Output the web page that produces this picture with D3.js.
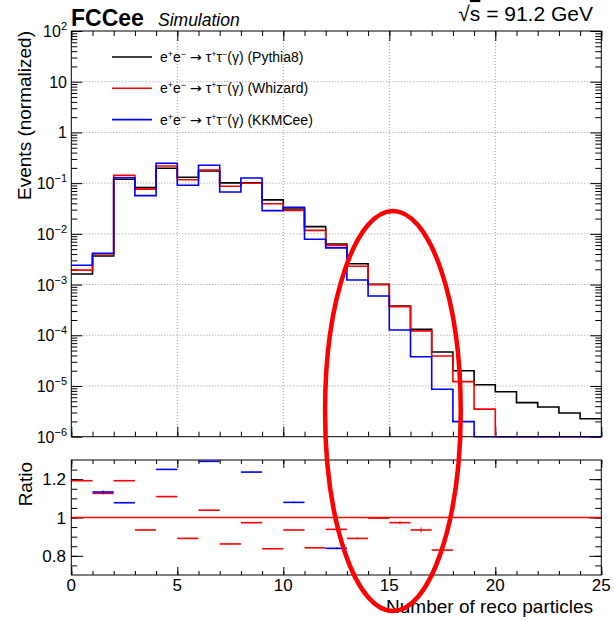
<!DOCTYPE html>
<html>
<head>
<meta charset="utf-8">
<title>FCCee - number of reco particles</title>
<style>
  body { margin: 0; background: #fff; }
  svg { display: block; font-family: "Liberation Sans", Arial, Helvetica, sans-serif; }
  .grid line { stroke: #9a9a9a; stroke-width: 1; stroke-dasharray: 1,2; }
  .frame { fill: none; stroke: #000; stroke-width: 1; }
  .tk line { stroke: #000; stroke-width: 1; }
  .hist { fill: none; stroke-width: 1.6; }
</style>
</head>
<body>
<svg id="chart" width="615" height="622"></svg>
<script src="https://d3js.org/d3.v7.min.js"></script>
<script>
// bin edges: 25 bins of width 1 from 0 to 25
const edges = d3.range(0, 26);

// normalized event counts per bin
const pythia8 = [1.62e-3, 3.66e-3, 0.119, 0.0815, 0.197, 0.131, 0.174, 0.101, 0.102, 0.0467,
  0.031, 0.0139, 6.32e-3, 2.58e-3, 1.01e-3, 3.78e-4, 1.31e-4, 4.69e-5, 2.0e-5, 1.06e-5,
  7.7e-6, 4.69e-6, 3.85e-6, 2.93e-6, 2.26e-6];
const whizard = [1.93e-3, 4.0e-3, 0.142, 0.0762, 0.218, 0.117, 0.181, 0.087, 0.0992, 0.0391,
  0.029, 0.0117, 5.93e-3, 2.30e-3, 1.0e-3, 3.68e-4, 1.22e-4, 3.9e-5, 1.22e-5, 3.5e-6,
  0, 0, 0, 0, 0];
const kkmcee = [2.4e-3, 4.15e-3, 0.128, 0.0567, 0.246, 0.0908, 0.225, 0.067, 0.126, 0.0287,
  0.0335, 7.82e-3, 5.3e-3, 1.23e-3, 5.96e-4, 1.27e-4, 3.78e-5, 8.6e-6, 1.98e-6, 0,
  0, 0, 0, 0, 0];

// ratio to Pythia8 (null = outside the 0.7-1.3 window or empty)
const ratioWhizard = [1.192, 1.126, 1.192, 0.935, 1.109, 0.891, 1.038, 0.862, 0.973, 0.837,
  0.935, 0.842, 0.938, 0.891, 0.997, 0.973, 0.935, 0.830, null, null,
  null, null, null, null, null];
const errWhizard = [0.004, 0.006, 0.003, 0.003, 0.003, 0.003, 0.003, 0.003, 0.003, 0.003,
  0.003, 0.004, 0.004, 0.005, 0.005, 0.008, 0.013, 0.008, 0, 0,
  0, 0, 0, 0, 0];
const ratioKKMCee = [null, 1.133, 1.077, null, 1.251, null, 1.293, null, 1.237, null,
  1.079, null, 0.839, null, null, null, null, null, null, null,
  null, null, null, null, null];
const errKKMCee = [0, 0.008, 0.003, 0, 0.003, 0, 0.003, 0, 0.003, 0,
  0.004, 0, 0.005, 0, 0, 0, 0, 0, 0, 0,
  0, 0, 0, 0, 0];

const legendLabels = ['Pythia8', 'Whizard', 'KKMCee'];
const colors = ['#000000', '#ff0000', '#0000ff'];
const xMajor = [0, 5, 10, 15, 20, 25];
const decades = [-6, -5, -4, -3, -2, -1, 0, 1, 2];
const ratioMajor = [0.8, 1, 1.2];

// layout
const L = 71.3, R = 601.3;
const topY0 = 31, topY1 = 436.7;
const ratY0 = 460, ratY1 = 575;

const svg = d3.select('#chart');

const x = d3.scaleLinear().domain([0, 25]).range([L, R]);
const y = d3.scaleLog().domain([1e-6, 100]).range([topY1, topY0]).clamp(true);
const yr = d3.scaleLinear().domain([0.7, 1.3]).range([ratY1, ratY0]);

const logMinor = [];
decades.slice(0, -1).forEach(d => { for (let m = 2; m <= 9; m++) logMinor.push(m * Math.pow(10, d)); });
const logMajor = decades.map(d => Math.pow(10, d));
const xMinor = edges;
const ratioMinor = d3.range(0.75, 1.3, 0.05).map(v => +v.toFixed(2));

// grid (top panel only)
const grid = svg.append('g').attr('class', 'grid');
grid.selectAll('.gx').data(xMajor.slice(1, -1)).enter().append('line')
  .attr('x1', d => x(d)).attr('x2', d => x(d)).attr('y1', topY0).attr('y2', topY1);
grid.selectAll('.gy').data(logMajor.slice(1, -1)).enter().append('line')
  .attr('x1', L).attr('x2', R).attr('y1', d => y(d)).attr('y2', d => y(d));

// tick helper: ticks drawn inside the frame, no labels
function ticks(axisFn, scale, values, size, tx, ty) {
  svg.append('g').attr('class', 'tk')
    .attr('transform', `translate(${tx},${ty})`)
    .call(axisFn(scale).tickValues(values).tickSize(-size).tickFormat(''))
    .call(g => g.select('.domain').remove());
}

// top panel ticks
ticks(d3.axisBottom, x, xMinor, 5, 0, topY1);
ticks(d3.axisBottom, x, xMajor, 10, 0, topY1);
ticks(d3.axisTop, x, xMinor, 5, 0, topY0);
ticks(d3.axisTop, x, xMajor, 10, 0, topY0);
ticks(d3.axisLeft, y, logMinor, 6, L, 0);
ticks(d3.axisLeft, y, logMajor, 11, L, 0);
ticks(d3.axisRight, y, logMinor, 6, R, 0);
ticks(d3.axisRight, y, logMajor, 11, R, 0);

// ratio panel ticks
ticks(d3.axisBottom, x, xMinor, 4, 0, ratY1);
ticks(d3.axisBottom, x, xMajor, 8, 0, ratY1);
ticks(d3.axisTop, x, xMinor, 4, 0, ratY0);
ticks(d3.axisTop, x, xMajor, 8, 0, ratY0);
ticks(d3.axisLeft, yr, ratioMinor, 6, L, 0);
ticks(d3.axisLeft, yr, ratioMajor, 12, L, 0);
ticks(d3.axisRight, yr, ratioMinor, 6, R, 0);
ticks(d3.axisRight, yr, ratioMajor, 12, R, 0);

// histograms
const line = d3.line()
  .x(d => x(d[0]))
  .y(d => y(Math.max(d[1], 1e-6)))
  .curve(d3.curveStepAfter);
[pythia8, whizard, kkmcee].forEach((vals, k) => {
  const pts = edges.map(e => [e, vals[Math.min(e, vals.length - 1)]]);
  svg.append('path').attr('class', 'hist')
    .attr('stroke', colors[k])
    .attr('d', line(pts));
});

// ratio reference line
svg.append('line')
  .attr('x1', x(0)).attr('x2', x(25))
  .attr('y1', yr(1)).attr('y2', yr(1))
  .attr('stroke', '#ff0000').attr('stroke-width', 1.3);

// ratio markers
[[ratioWhizard, errWhizard, colors[1]], [ratioKKMCee, errKKMCee, colors[2]]].forEach(([vals, errs, c]) => {
  const g = svg.append('g').attr('stroke', c).attr('stroke-width', 1.6);
  vals.forEach((v, i) => {
    if (v === null) return;
    g.append('line').attr('x1', x(i)).attr('x2', x(i + 1)).attr('y1', yr(v)).attr('y2', yr(v));
    g.append('line').attr('stroke-width', 1)
      .attr('x1', x(i + 0.5)).attr('x2', x(i + 0.5))
      .attr('y1', yr(v - errs[i])).attr('y2', yr(v + errs[i]));
  });
});

// frames
svg.append('rect').attr('class', 'frame')
  .attr('x', L).attr('y', topY0).attr('width', R - L).attr('height', topY1 - topY0);
svg.append('rect').attr('class', 'frame')
  .attr('x', L).attr('y', ratY0).attr('width', R - L).attr('height', ratY1 - ratY0);

// y tick labels, top panel
decades.forEach(d => {
  const t = svg.append('text')
    .attr('x', 67).attr('y', y(Math.pow(10, d)) + 6)
    .attr('text-anchor', 'end').attr('font-size', 16);
  if (d === 0) t.text('1');
  else if (d === 1) t.text('10');
  else {
    t.append('tspan').text('10');
    t.append('tspan').attr('dy', -7).attr('font-size', 11)
      .text(d < 0 ? '\u2212' + (-d) : String(d));
  }
});

// y tick labels, ratio panel
svg.selectAll('.rl').data(ratioMajor).enter().append('text')
  .attr('x', 66).attr('y', d => yr(d) + 6)
  .attr('text-anchor', 'end').attr('font-size', 17)
  .text(d => d === 1 ? '1' : d);

// x tick labels
svg.selectAll('.xl').data(xMajor).enter().append('text')
  .attr('x', d => x(d)).attr('y', 591)
  .attr('text-anchor', 'middle').attr('font-size', 17)
  .text(d => d);

// axis titles
svg.append('text')
  .attr('transform', 'translate(31,31) rotate(-90)')
  .attr('text-anchor', 'end').attr('font-size', 19)
  .text('Events (normalized)');
svg.append('text')
  .attr('transform', 'translate(32,462) rotate(-90)')
  .attr('text-anchor', 'end').attr('font-size', 19)
  .text('Ratio');
svg.append('text')
  .attr('x', 593).attr('y', 613)
  .attr('text-anchor', 'end').attr('font-size', 19)
  .text('Number of reco particles');

// header
svg.append('text').attr('x', 71).attr('y', 26)
  .attr('font-size', 23).attr('font-weight', 'bold').text('FCCee');
svg.append('text').attr('x', 158).attr('y', 26)
  .attr('font-size', 17.5).attr('font-style', 'italic').text('Simulation');
const sq = svg.append('text').attr('x', 593).attr('y', 21)
  .attr('text-anchor', 'end').attr('font-size', 21);
sq.append('tspan').text('\u221A');
sq.append('tspan').attr('text-decoration', 'overline').text('s');
sq.append('tspan').text(' = 91.2 GeV');

// legend
const leg = svg.append('g');
legendLabels.forEach((name, k) => {
  const ly = 57 + k * 31.3;
  leg.append('line').attr('x1', 112).attr('x2', 152).attr('y1', ly).attr('y2', ly)
    .attr('stroke', colors[k]).attr('stroke-width', 1.6);
  const t = leg.append('text').attr('x', 160).attr('y', ly + 5).attr('font-size', 14);
  t.append('tspan').text('e');
  t.append('tspan').attr('dy', -5).attr('font-size', 9).text('+');
  t.append('tspan').attr('dy', 5).text('e');
  t.append('tspan').attr('dy', -5).attr('font-size', 9).text('\u2212');
  t.append('tspan').attr('dy', 5).text(' ');
  t.append('tspan').attr('font-family', 'DejaVu Sans').text('\u2192');
  t.append('tspan').text(' \u03C4');
  t.append('tspan').attr('dy', -5).attr('font-size', 9).text('+');
  t.append('tspan').attr('dy', 5).text('\u03C4');
  t.append('tspan').attr('dy', -5).attr('font-size', 9).text('\u2212');
  t.append('tspan').attr('dy', 5).text('(\u03B3) (' + name + ')');
});

// red ellipse annotation around the tail region
svg.append('ellipse')
  .attr('cx', x(15.17)).attr('cy', 411)
  .attr('rx', x(3.2) - x(0)).attr('ry', 200)
  .attr('fill', 'none').attr('stroke', '#ff0000').attr('stroke-width', 4.5);
</script>
</body>
</html>
